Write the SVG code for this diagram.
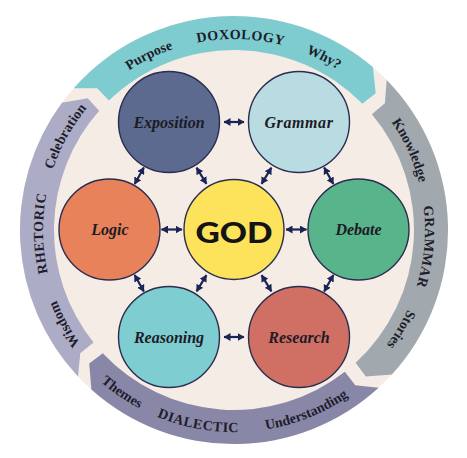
<svg xmlns="http://www.w3.org/2000/svg" xmlns:xlink="http://www.w3.org/1999/xlink" width="467" height="458" viewBox="0 0 467 458">
<style>
.node{stroke:#2b2d4f;stroke-width:1.4}
.lbl{font-family:"Liberation Serif","Times New Roman",serif;font-style:italic;font-weight:bold;font-size:16px;fill:#1d1b25;text-anchor:middle}
.god{font-family:Lato,"DejaVu Sans",sans-serif;font-weight:900;font-size:28px;fill:#141414;text-anchor:middle}
.band{font-family:"Liberation Serif","Times New Roman",serif;font-weight:bold;font-size:14px;fill:#1d1d2b}
.caps{letter-spacing:0.5px}
.con line{stroke:#1b2456;stroke-width:2.2;marker-start:url(#ah);marker-end:url(#ah)}
</style>
<defs>
<marker id="ah" markerUnits="userSpaceOnUse" viewBox="0 0 7 8" markerWidth="7" markerHeight="8" refX="6.5" refY="4" orient="auto-start-reverse">
<path d="M0,0 L7,4 L0,8 Z" fill="#1b2456"/>
</marker>
<path id="cw" d="M234,421 A191,191 0 1 1 234,39 A191,191 0 1 1 234,421"/>
<path id="ccw" d="M32,230 A202,202 0 0 0 234,432 A202,202 0 0 0 436,230"/>
</defs>
<rect width="467" height="458" fill="#ffffff"/>
<circle cx="234" cy="230" r="214" fill="#f6ece6"/>
<g id="bands">
<path id="band-doxology" fill="#7fccd0" d="M73.71,88.20 A214,214 0 0 1 372.97,67.27 L375.70,93.14 L362.39,103.84 A180,180 0 0 0 108.95,100.53 L97.14,88.30 Z"/>
<path id="band-grammar" fill="#a1a8ae" d="M386.65,80.00 A214,214 0 0 1 391.78,374.58 L365.81,376.39 L355.61,362.71 A180,180 0 0 0 371.88,114.30 L384.90,103.37 Z"/>
<path id="band-dialectic" fill="#8987a8" d="M378.58,387.78 A214,214 0 0 1 91.37,389.54 L89.22,363.61 L102.78,353.21 A180,180 0 0 0 344.83,371.84 L355.29,385.24 Z"/>
<path id="band-rhetoric" fill="#adacc6" d="M77.99,376.48 A214,214 0 0 1 61.97,102.71 L87.61,98.19 L99.18,110.73 A180,180 0 0 0 93.53,342.54 L80.26,353.16 Z"/>
</g>
<g id="band-text" class="band">
<text><textPath xlink:href="#cw" href="#cw" startOffset="16.94%" text-anchor="middle">Wisdom</textPath></text>
<text class="caps"><textPath xlink:href="#cw" href="#cw" startOffset="24.72%" text-anchor="middle">RHETORIC</textPath></text>
<text><textPath xlink:href="#cw" href="#cw" startOffset="33.06%" text-anchor="middle">Celebration</textPath></text>
<text><textPath xlink:href="#cw" href="#cw" startOffset="42.78%" text-anchor="middle">Purpose</textPath></text>
<text class="caps"><textPath xlink:href="#cw" href="#cw" startOffset="50.56%" text-anchor="middle">DOXOLOGY</textPath></text>
<text><textPath xlink:href="#cw" href="#cw" startOffset="57.64%" text-anchor="middle">Why?</textPath></text>
<text><textPath xlink:href="#cw" href="#cw" startOffset="68.22%" text-anchor="middle">Knowledge</textPath></text>
<text class="caps"><textPath xlink:href="#cw" href="#cw" startOffset="76.39%" text-anchor="middle">GRAMMAR</textPath></text>
<text><textPath xlink:href="#cw" href="#cw" startOffset="83.56%" text-anchor="middle">Stories</textPath></text>
<text><textPath xlink:href="#ccw" href="#ccw" startOffset="30.78%" text-anchor="middle">Themes</textPath></text>
<text class="caps"><textPath xlink:href="#ccw" href="#ccw" startOffset="44.17%" text-anchor="middle">DIALECTIC</textPath></text>
<text><textPath xlink:href="#ccw" href="#ccw" startOffset="62.11%" text-anchor="middle">Understanding</textPath></text>
</g>
<g id="connectors" class="con">
<line x1="224" y1="122" x2="244" y2="122"/>
<line x1="161.5" y1="229.5" x2="182" y2="229.5"/>
<line x1="286" y1="229.5" x2="306.5" y2="229.5"/>
<line x1="224" y1="337" x2="244" y2="337"/>
<line x1="143.85" y1="167.44" x2="134.65" y2="184.06"/>
<line x1="196.58" y1="167.62" x2="206.42" y2="183.88"/>
<line x1="271.42" y1="167.62" x2="261.58" y2="183.88"/>
<line x1="324.15" y1="167.44" x2="333.35" y2="184.06"/>
<line x1="134.65" y1="274.94" x2="143.85" y2="291.56"/>
<line x1="206.42" y1="275.12" x2="196.58" y2="291.38"/>
<line x1="261.58" y1="275.12" x2="271.42" y2="291.38"/>
<line x1="333.35" y1="274.94" x2="324.15" y2="291.56"/>
</g>
<g id="exposition"><circle class="node" cx="169" cy="122" r="50.5" fill="#5b6a8e"/><text class="lbl" x="169" y="127.5">Exposition</text></g>
<g id="grammar"><circle class="node" cx="299" cy="122" r="50.5" fill="#b9dce3"/><text class="lbl" x="299" y="127.5" letter-spacing="0.6">Grammar</text></g>
<g id="logic"><circle class="node" cx="109.5" cy="229.5" r="50.5" fill="#e8825a"/><text class="lbl" x="110" y="235">Logic</text></g>
<g id="god"><circle class="node" cx="234" cy="229.5" r="50" fill="#fde35c"/><text class="god" x="234" y="243" textLength="77" lengthAdjust="spacingAndGlyphs">GOD</text></g>
<g id="debate"><circle class="node" cx="358.5" cy="229.5" r="50.5" fill="#58b48a"/><text class="lbl" x="358.5" y="235">Debate</text></g>
<g id="reasoning"><circle class="node" cx="169" cy="337" r="50.5" fill="#7dcdd1"/><text class="lbl" x="169" y="342.5">Reasoning</text></g>
<g id="research"><circle class="node" cx="299" cy="337" r="50.5" fill="#d06f63"/><text class="lbl" x="299" y="342.5">Research</text></g>
</svg>
